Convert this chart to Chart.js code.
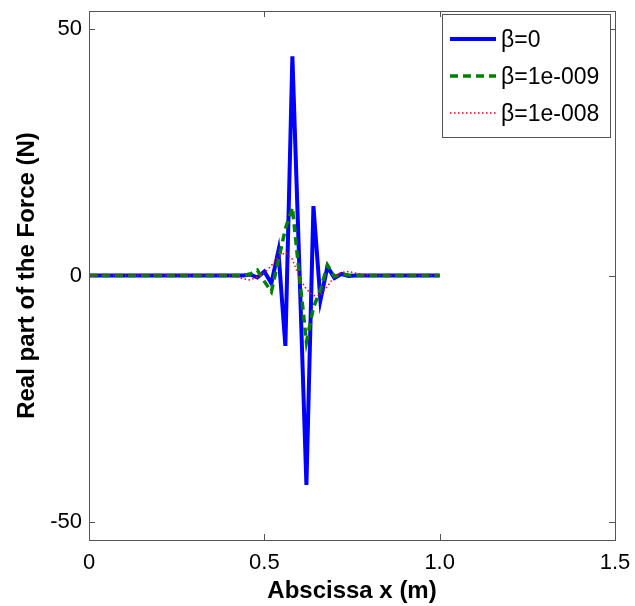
<!DOCTYPE html>
<html>
<head>
<meta charset="utf-8">
<script src="https://cdn.jsdelivr.net/npm/chart.js@4/dist/chart.umd.min.js"></script>
<style>
  html, body { margin: 0; padding: 0; background: #fff; }
  #wrap { width: 635px; height: 606px; }
</style>
</head>
<body>
<div id="wrap"><canvas id="c" width="635" height="606"></canvas></div>
<script>
// abscissa, 0..1 step 0.02
var xs = [];
for (var i = 0; i <= 50; i++) xs.push(+(i * 0.02).toFixed(2));

// beta = 0
var beta0 = [0,0,0,0,0,0,0,0,0,0, 0,0,0,0,0,0,0,0,0,0,
  0,0,0,0.2,-0.4,0.8,-1.6,5.0,-14.3,44.5,
  1.5,-42.5,14.1,-5.0,1.8,-0.5,0.3,-0.1,0,0,
  0,0,0,0,0,0,0,0,0,0, 0];
// beta = 1e-009
var beta9 = [0,0,0,0,0,0,0,0,0,0, 0,0,0,0,0,0,0,0,0,0,
  0,0,0,0.3,1.1,-1.2,-3.3,3.0,9.5,13.8,
  0,-13.5,-6.5,-2.9,2.1,-0.2,0.3,0.1,0,0,
  0,0,0,0,0,0,0,0,0,0, 0];
// beta = 1e-008
var beta8 = [0,0,0,0,0,0,0,0,0,0, 0,0,0,0,0,0,0,0,0,0,
  0,-0.2,-0.7,-0.9,-0.3,0.5,2.0,3.8,4.7,3.3,
  -0.5,-2.8,-4.1,-4.0,-2.2,-0.2,0.6,0.8,0.5,0.2,
  0,0,0,0,0,0,0,0,0,0, 0];

var seriesNames = ['\u03b2=0', '\u03b2=1e-009', '\u03b2=1e-008'];
var xTicks = [0, 0.5, 1, 1.5];
var yTicks = [-50, 0, 50];

var FONT = '"Liberation Sans", Arial, sans-serif';

function pts(ys) {
  return xs.map(function (x, i) { return { x: x, y: ys[i] }; });
}

// box round the axes, ticks pointing inwards
var framePlugin = {
  id: 'frame',
  afterDatasetsDraw: function (chart) {
    var ctx = chart.ctx, a = chart.chartArea;
    var sx = chart.scales.x, sy = chart.scales.y;
    ctx.save();
    ctx.strokeStyle = '#555';
    ctx.lineWidth = 1;
    ctx.strokeRect(a.left + 0.5, a.top + 0.5, a.right - a.left, a.bottom - a.top);
    ctx.beginPath();
    xTicks.forEach(function (v) {
      var p = Math.round(sx.getPixelForValue(v)) + 0.5;
      ctx.moveTo(p, a.bottom); ctx.lineTo(p, a.bottom - 6);
      ctx.moveTo(p, a.top); ctx.lineTo(p, a.top + 6);
    });
    yTicks.forEach(function (v) {
      var p = Math.round(sy.getPixelForValue(v)) + 0.5;
      ctx.moveTo(a.left, p); ctx.lineTo(a.left + 6, p);
      ctx.moveTo(a.right, p); ctx.lineTo(a.right - 6, p);
    });
    ctx.stroke();
    ctx.restore();
  }
};

// legend box in the upper right corner, like matlab
var legendPlugin = {
  id: 'boxLegend',
  afterDraw: function (chart) {
    var ctx = chart.ctx;
    var bx = 442, by = 14, bw = 168, bh = 123;
    ctx.save();
    ctx.fillStyle = '#fff';
    ctx.fillRect(bx, by, bw, bh);
    ctx.strokeStyle = '#555';
    ctx.lineWidth = 1;
    ctx.strokeRect(bx + 0.5, by + 0.5, bw, bh);
    chart.data.datasets.forEach(function (ds, i) {
      var yy = by + 25 + i * 37;
      ctx.beginPath();
      ctx.strokeStyle = ds.borderColor;
      ctx.lineWidth = ds.borderWidth;
      ctx.setLineDash(ds.borderDash || []);
      ctx.moveTo(bx + 8, yy); ctx.lineTo(bx + 54, yy);
      ctx.stroke();
      ctx.setLineDash([]);
      ctx.fillStyle = '#000';
      ctx.font = '23px ' + FONT;
      ctx.textBaseline = 'middle';
      ctx.textAlign = 'left';
      ctx.fillText(ds.label, bx + 59, yy + 2);
    });
    ctx.restore();
  }
};

new Chart(document.getElementById('c').getContext('2d'), {
  type: 'line',
  data: {
    datasets: [
      { label: seriesNames[0], data: pts(beta0), borderColor: '#0000ff', borderWidth: 4, order: 2 },
      { label: seriesNames[1], data: pts(beta9), borderColor: '#007f00', borderWidth: 3.5, borderDash: [8, 5], order: 1 },
      { label: seriesNames[2], data: pts(beta8), borderColor: '#ff0000', borderWidth: 1.5, borderDash: [1.5, 2.5], order: 0 }
    ]
  },
  options: {
    responsive: false,
    animation: false,
    events: [],
    elements: { point: { radius: 0 }, line: { tension: 0, fill: false } },
    layout: { padding: { left: 0, right: 20, top: 11, bottom: 0 } },
    plugins: { legend: { display: false }, tooltip: { enabled: false } },
    scales: {
      x: {
        type: 'linear', min: 0, max: 1.5,
        grid: { display: false, drawTicks: false },
        border: { display: false },
        afterBuildTicks: function (s) { s.ticks = xTicks.map(function (v) { return { value: v }; }); },
        afterFit: function (s) { s.height = 66; s.paddingLeft = 0; s.paddingRight = 0; },
        ticks: { color: '#000', padding: 10, maxRotation: 0, font: { family: FONT, size: 22 } },
        title: { display: true, text: 'Abscissa x (m)', color: '#000', padding: { top: 0, bottom: 3 },
                 font: { family: FONT, size: 24, weight: 'bold', lineHeight: 1 } }
      },
      y: {
        type: 'linear', min: -53.7, max: 53.7,
        grid: { display: false, drawTicks: false },
        border: { display: false },
        afterBuildTicks: function (s) { s.ticks = yTicks.map(function (v) { return { value: v }; }); },
        afterFit: function (s) { s.width = 89; s.paddingTop = 0; s.paddingBottom = 0; },
        ticks: { color: '#000', padding: 7, font: { family: FONT, size: 22 } },
        title: { display: true, text: 'Real part of the Force (N)', color: '#000', padding: { top: 15, bottom: 0 },
                 font: { family: FONT, size: 24, weight: 'bold', lineHeight: 1 } }
      }
    }
  },
  plugins: [framePlugin, legendPlugin]
});
</script>
</body>
</html>
